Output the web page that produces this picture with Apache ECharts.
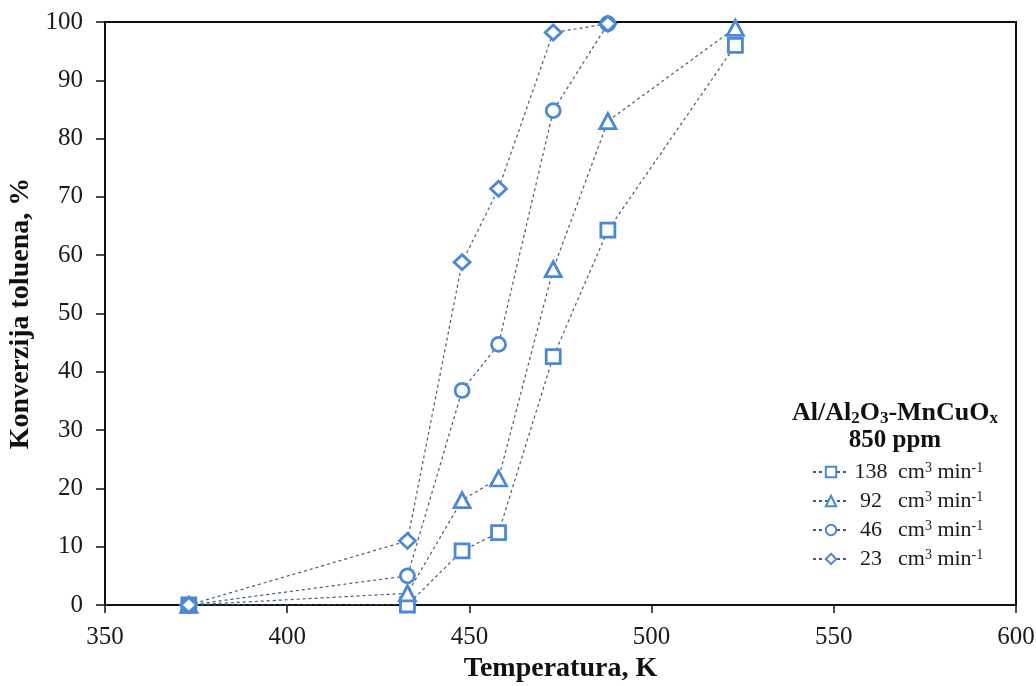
<!DOCTYPE html>
<html><head><meta charset="utf-8">
<script src="https://cdn.jsdelivr.net/npm/echarts@6/dist/echarts.min.js"></script>
<style>html,body{margin:0;padding:0;background:#fff}#c{width:1036px;height:686px}</style>
</head><body><div id="c"></div>
<script>
const temps = [373, 433, 448, 458, 473, 488, 523];
const flows = ['138', '92', '46', '23'];
const conv138 = [0, 0, 9.3, 12.4, 42.6, 64.3, 96.0];
const conv92 = [0, 2, 18, 21.7, 57.6, 83, 99];
const conv46 = [0, 5, 36.8, 44.7, 84.8, 99.7];
const conv23 = [0, 11, 58.8, 71.4, 98.2, 99.7];
const symbols = ['rect', 'triangle', 'circle', 'diamond'];
const allConv = [conv138, conv92, conv46, conv23];
const xTicks = [350, 400, 450, 500, 550, 600];
const yTicks = [0, 10, 20, 30, 40, 50, 60, 70, 80, 90, 100];

const font = 'Liberation Serif, Times New Roman, serif';
const markerColor = '#4a88d8';
const lineColor = '#465a7a';

const series = allConv.map((vals, i) => ({
  name: flows[i],
  type: 'line',
  data: vals.map((v, j) => [temps[j], v]),
  symbol: symbols[i],
  symbolSize: symbols[i] === 'diamond' ? [16, 15] : (symbols[i] === 'triangle' ? [16, 15] : 14),
  itemStyle: { color: '#fff', borderColor: markerColor, borderWidth: 2.8 },
  lineStyle: { color: lineColor, width: 1.2, type: [3, 3] },
  z: 2 + i
}));

const chart = echarts.init(document.getElementById('c'), null, { renderer: 'canvas' });
chart.setOption({
  animation: false,
  backgroundColor: '#fff',
  grid: { left: 105, right: 20, top: 22, bottom: 81, containLabel: false, outerBoundsMode: 'none', show: true, borderColor: '#111', borderWidth: 2, backgroundColor: 'transparent' },
  title: {
    text: '{b|Al/Al}{s|2}{b|O}{s|3}{b|-MnCuO}{s|x}\n{c|850 ppm}',
    left: 890, top: 394, textAlign: 'center',
    textStyle: {
      rich: {
        b: { fontFamily: font, fontWeight: 'bold', fontSize: 26, color: '#111', lineHeight: 28, verticalAlign: 'middle' },
        c: { fontFamily: font, fontWeight: 'bold', fontSize: 25, color: '#111', lineHeight: 28, verticalAlign: 'middle' },
        s: { fontFamily: font, fontWeight: 'bold', fontSize: 17, color: '#111', lineHeight: 24, verticalAlign: 'bottom' }
      }
    }
  },
  legend: {
    orient: 'vertical',
    left: 807, top: 456,
    itemWidth: 36, itemHeight: 13, itemGap: 7,
    data: flows,
    formatter: function (n) { return '{n|' + n + '}{u|cm}{p|3}{u| min}{p|-1}'; },
    textStyle: {
      rich: {
        n: { fontFamily: font, fontSize: 22, color: '#1a1a1a', width: 34, align: 'right', lineHeight: 22, padding: [0, 10, 0, 0] },
        u: { fontFamily: font, fontSize: 22, color: '#1a1a1a', lineHeight: 22 },
        p: { fontFamily: font, fontSize: 14, color: '#1a1a1a', verticalAlign: 'top', lineHeight: 14 }
      }
    }
  },
  xAxis: {
    type: 'value', min: 350, max: 600, interval: 50,
    name: 'Temperatura, K', nameLocation: 'middle', nameGap: 48,
    nameTextStyle: { fontFamily: font, fontWeight: 'bold', fontSize: 28, color: '#111' },
    axisLine: { show: true, onZero: false, lineStyle: { color: '#111', width: 2 } },
    axisTick: { show: true, inside: false, length: 8, lineStyle: { color: '#111', width: 1.5 } },
    axisLabel: { fontFamily: font, fontSize: 25, color: '#1a1a1a', margin: 20, formatter: v => xTicks.includes(v) ? String(v) : '' },
    splitLine: { show: false }
  },
  yAxis: {
    type: 'value', min: 0, max: 100, interval: 10,
    name: 'Konverzija toluena, %', nameLocation: 'middle', nameGap: 64,
    nameTextStyle: { fontFamily: font, fontWeight: 'bold', fontSize: 28, color: '#111' },
    axisLine: { show: true, lineStyle: { color: '#111', width: 2 } },
    axisTick: { show: true, inside: false, length: 9, lineStyle: { color: '#111', width: 1.5 } },
    axisLabel: { fontFamily: font, fontSize: 25, color: '#1a1a1a', margin: 22, formatter: v => yTicks.includes(v) ? String(v) : '' },
    splitLine: { show: false }
  },
  series: series
});
</script></body></html>
